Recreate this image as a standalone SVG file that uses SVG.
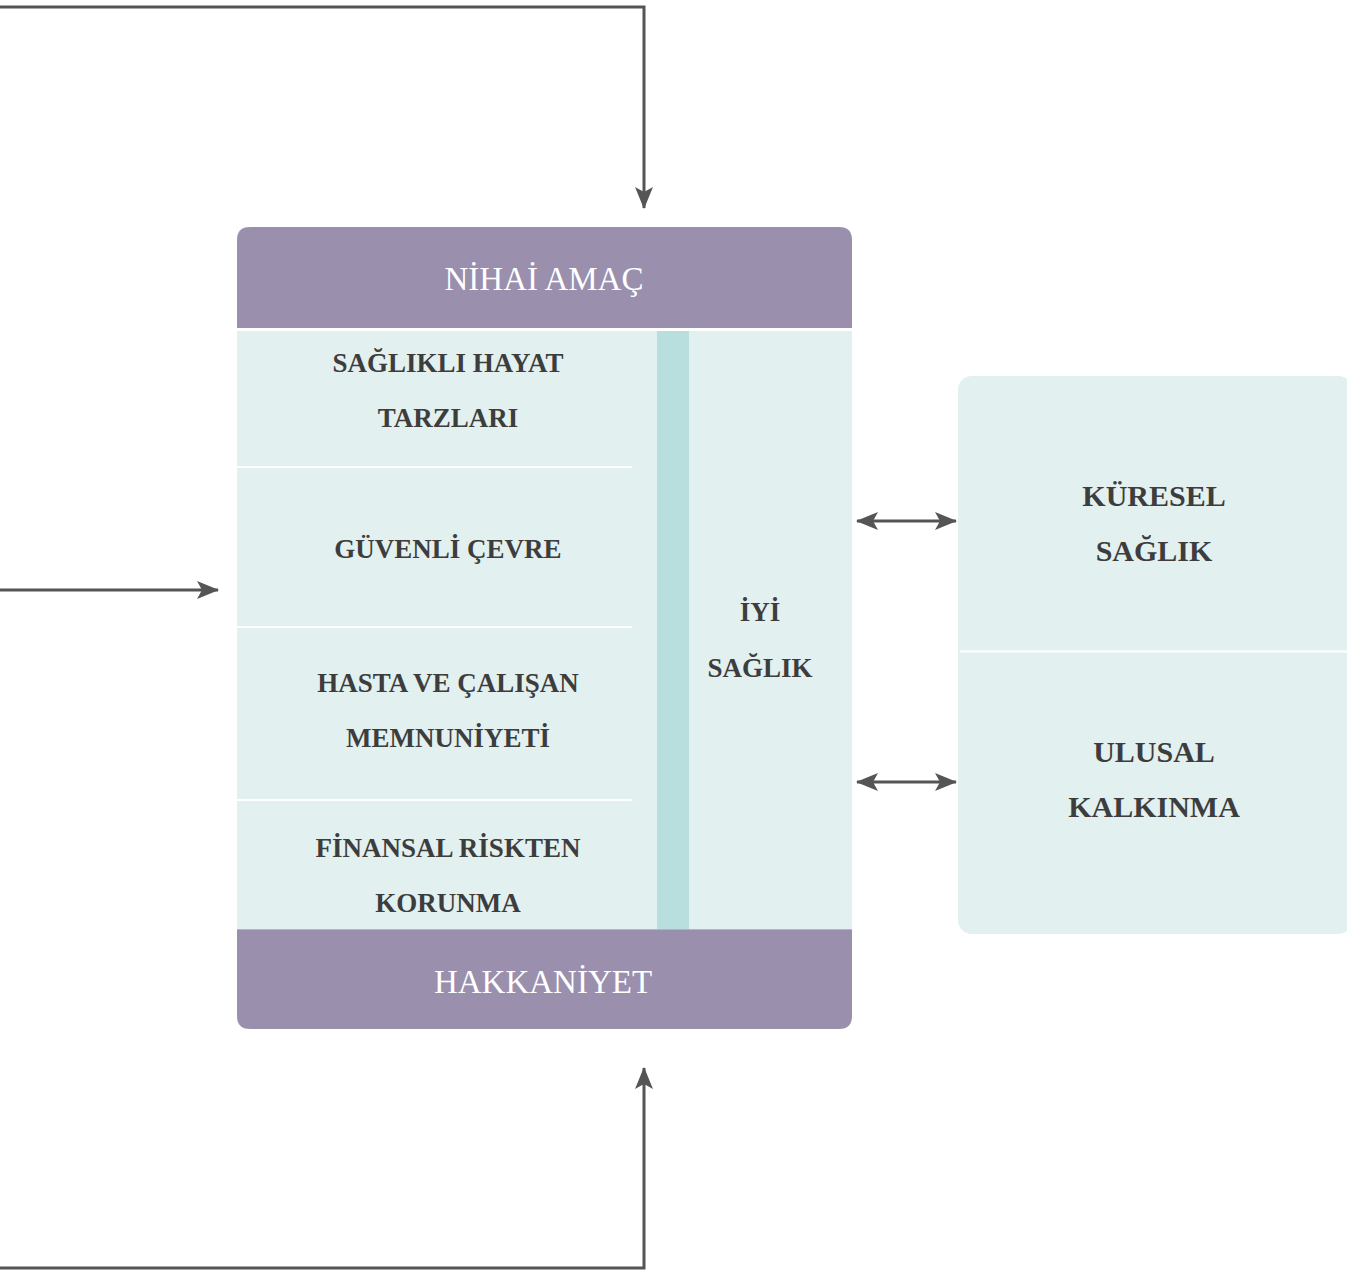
<svg xmlns="http://www.w3.org/2000/svg" width="1347" height="1270" viewBox="0 0 1347 1270">
<defs>
<style>
.dark{font-family:"Liberation Serif","Times New Roman",serif;font-weight:bold;font-size:27px;fill:#3d3d3d;text-anchor:middle}
.big{font-size:30px}
.white{font-family:"Liberation Serif","Times New Roman",serif;font-size:33px;fill:#ffffff;text-anchor:middle}
.conn{fill:none;stroke:#555555;stroke-width:3}
.sep{stroke:#ffffff;stroke-width:2}
</style>
<marker id="ah" markerUnits="userSpaceOnUse" markerWidth="22" markerHeight="18" viewBox="0 0 22 18" refX="21" refY="9" orient="auto-start-reverse">
<path d="M0,0 L22,9 L0,18 L5,9 z" fill="#555555"/>
</marker>
</defs>
<rect width="1347" height="1270" fill="#ffffff"/>

<g id="main-body">
<rect x="237" y="331" width="615" height="598" fill="#e2f0f0"/>
<rect x="657" y="331" width="32" height="598" fill="#b8dedd"/>
<line class="sep" x1="237" y1="467" x2="632" y2="467"/>
<line class="sep" x1="237" y1="627" x2="632" y2="627"/>
<line class="sep" x1="237" y1="800" x2="632" y2="800"/>
</g>

<g id="nihai-amac">
<path d="M237,328 V240 Q237,227 250,227 H839 Q852,227 852,240 V328 Z" fill="#9a90ae"/>
<text class="white" x="544" y="290">NİHAİ AMAÇ</text>
</g>

<g id="hakkaniyet">
<path d="M237,929 H852 V1016 Q852,1029 839,1029 H250 Q237,1029 237,1016 Z" fill="#9a90ae"/>
<line x1="237" y1="929.5" x2="852" y2="929.5" stroke="#b0b4c4" stroke-width="1"/>
<text class="white" x="543" y="993">HAKKANİYET</text>
</g>

<g id="saglikli-hayat">
<text class="dark" x="448" y="372">SAĞLIKLI HAYAT</text>
<text class="dark" x="448" y="427">TARZLARI</text>
</g>
<g id="guvenli-cevre">
<text class="dark" x="448" y="558">GÜVENLİ ÇEVRE</text>
</g>
<g id="hasta-calisan">
<text class="dark" x="448" y="692">HASTA VE ÇALIŞAN</text>
<text class="dark" x="448" y="747">MEMNUNİYETİ</text>
</g>
<g id="finansal-risk">
<text class="dark" x="448" y="857">FİNANSAL RİSKTEN</text>
<text class="dark" x="448" y="912">KORUNMA</text>
</g>
<g id="iyi-saglik">
<text class="dark" x="760" y="621">İYİ</text>
<text class="dark" x="760" y="677">SAĞLIK</text>
</g>

<g id="right-panel">
<rect x="958" y="376" width="394" height="558" rx="14" fill="#e2f0f0"/>
<line class="sep" x1="960" y1="651.5" x2="1347" y2="651.5"/>
</g>
<g id="kuresel-saglik">
<text class="dark big" x="1154" y="506">KÜRESEL</text>
<text class="dark big" x="1154" y="561">SAĞLIK</text>
</g>
<g id="ulusal-kalkinma">
<text class="dark big" x="1154" y="762">ULUSAL</text>
<text class="dark big" x="1154" y="817">KALKINMA</text>
</g>

<g id="connectors">
<polyline class="conn" points="0,7 644,7 644,208" marker-end="url(#ah)"/>
<line class="conn" x1="0" y1="590" x2="218" y2="590" marker-end="url(#ah)"/>
<polyline class="conn" points="0,1268 644,1268 644,1068" marker-end="url(#ah)"/>
<line class="conn" x1="857" y1="521" x2="956" y2="521" marker-start="url(#ah)" marker-end="url(#ah)"/>
<line class="conn" x1="857" y1="782" x2="956" y2="782" marker-start="url(#ah)" marker-end="url(#ah)"/>
</g>
</svg>
